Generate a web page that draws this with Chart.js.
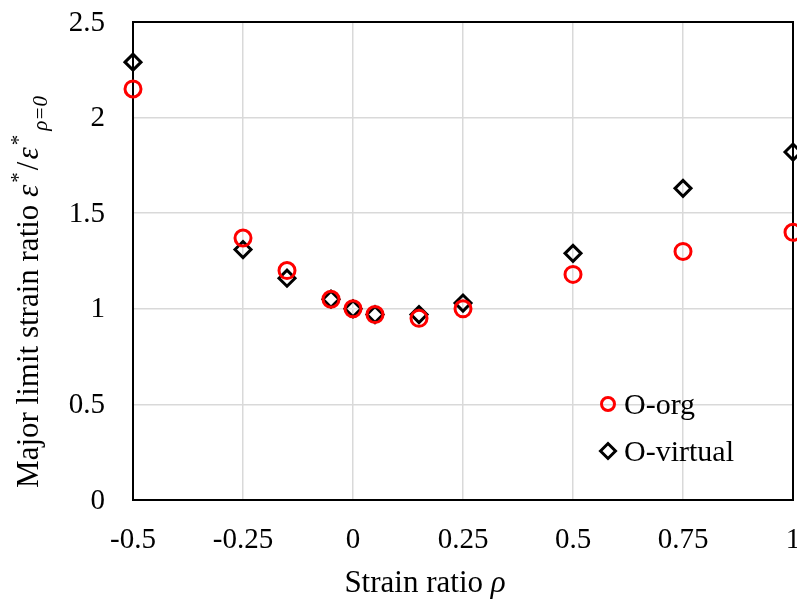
<!DOCTYPE html>
<html>
<head>
<meta charset="utf-8">
<script src="https://cdn.jsdelivr.net/npm/chart.js@4"></script>
<style>
  body { margin: 0; background: #fff; }
  #wrap { width: 797px; height: 606px; position: relative; }
</style>
</head>
<body>
<div id="wrap"><canvas id="chart" width="797" height="606"></canvas></div>
<script>
// strain ratio values
const strainRatio = [-0.5, -0.25, -0.15, -0.05, 0, 0.05, 0.15, 0.25, 0.5, 0.75, 1];
const orgValues = [2.15, 1.37, 1.20, 1.05, 1.00, 0.97, 0.95, 1.00, 1.18, 1.30, 1.40];
const virtualValues = [2.29, 1.31, 1.16, 1.05, 1.00, 0.97, 0.97, 1.03, 1.29, 1.63, 1.82];
const xTicks = [-0.5, -0.25, 0, 0.25, 0.5, 0.75, 1];
const yTicks = [0, 0.5, 1, 1.5, 2, 2.5];
const seriesNames = ['O-org', 'O-virtual'];

const serif = '"Liberation Serif", "Times New Roman", serif';

function toPoints(xs, ys) {
  return xs.map((x, i) => ({ x: x, y: ys[i] }));
}

// frame, tick labels, axis titles and inner legend
const decorations = {
  id: 'decorations',
  beforeDatasetsDraw(chart) {
    const ctx = chart.ctx;
    const a = chart.chartArea;
    ctx.save();
    ctx.strokeStyle = '#000';
    ctx.lineWidth = 2;
    ctx.strokeRect(a.left, a.top, a.right - a.left, a.bottom - a.top);
    ctx.restore();
  },
  afterDraw(chart) {
    const ctx = chart.ctx;
    const a = chart.chartArea;
    const xs = chart.scales.x, ys = chart.scales.y;
    ctx.save();

    // tick labels
    ctx.fillStyle = '#000';
    ctx.font = '29px ' + serif;
    ctx.textAlign = 'center';
    ctx.textBaseline = 'middle';
    xTicks.forEach(v => ctx.fillText(String(v), xs.getPixelForValue(v), a.bottom + 40));
    ctx.textAlign = 'right';
    yTicks.forEach(v => ctx.fillText(String(v), 105, ys.getPixelForValue(v) + 1));

    // x title
    ctx.textBaseline = 'alphabetic';
    ctx.textAlign = 'left';
    const t1 = 'Strain ratio ';
    ctx.font = '31px ' + serif;
    const w1 = ctx.measureText(t1).width;
    ctx.font = 'italic 31px ' + serif;
    const wRho = ctx.measureText('ρ').width;
    const sx = 425 - (w1 + wRho) / 2;
    ctx.font = '31px ' + serif;
    ctx.fillText(t1, sx, 592);
    ctx.font = 'italic 31px ' + serif;
    ctx.fillText('ρ', sx + w1, 592);

    // y title, rotated
    const parts = [
      { t: 'Major limit strain ratio ', f: '31px ', dy: 0 },
      { t: 'ε', f: 'italic 31px ', dy: 0, pad: 2 },
      { t: '*', f: '21px ', dy: -13, pad: 2 },
      { t: '/', f: '31px ', dy: 0, pad: 2 },
      { t: 'ε', f: 'italic 31px ', dy: 0, pad: 2 },
      { t: '*', f: '21px ', dy: -13, pad: 4 },
      { t: 'ρ=0', f: 'italic 21px ', dy: 9 }
    ];
    let total = 0;
    parts.forEach(p => {
      ctx.font = p.f + serif;
      p.w = ctx.measureText(p.t).width + (p.pad || 0);
      total += p.w;
    });
    ctx.translate(38, 292);
    ctx.rotate(-Math.PI / 2);
    let px = -total / 2;
    parts.forEach(p => {
      ctx.font = p.f + serif;
      ctx.fillText(p.t, px, p.dy);
      px += p.w;
    });
    ctx.restore();

    // legend inside plot
    ctx.save();
    const items = [
      { label: seriesNames[0], ds: chart.data.datasets[0], y: 404 },
      { label: seriesNames[1], ds: chart.data.datasets[1], y: 451 }
    ];
    items.forEach(it => {
      ctx.strokeStyle = it.ds.borderColor;
      ctx.fillStyle = 'rgba(0,0,0,0)';
      ctx.lineWidth = 3;
      Chart.helpers.drawPoint(ctx, {
        pointStyle: it.ds.pointStyle,
        radius: it.ds.pointStyle === 'circle' ? 6.5 : 7.5,
        borderWidth: 3,
        rotation: 0
      }, 608, it.y);
      ctx.fillStyle = '#000';
      ctx.font = '30px ' + serif;
      ctx.textAlign = 'left';
      ctx.textBaseline = 'alphabetic';
      ctx.fillText(it.label, 624, it.y + 10);
    });
    ctx.restore();
  }
};

new Chart(document.getElementById('chart'), {
  type: 'scatter',
  data: {
    datasets: [
      {
        label: seriesNames[0],
        data: toPoints(strainRatio, orgValues),
        pointStyle: 'circle',
        pointRadius: 8,
        pointBorderWidth: 3,
        borderColor: '#ff0000',
        backgroundColor: 'rgba(0,0,0,0)'
      },
      {
        label: seriesNames[1],
        data: toPoints(strainRatio, virtualValues),
        pointStyle: 'rectRot',
        pointRadius: 8,
        pointBorderWidth: 3,
        borderColor: '#000000',
        backgroundColor: 'rgba(0,0,0,0)'
      }
    ]
  },
  options: {
    responsive: false,
    animation: false,
    clip: false,
    layout: { autoPadding: false, padding: { left: 133, top: 22, right: 4, bottom: 106 } },
    plugins: { legend: { display: false }, tooltip: { enabled: false } },
    scales: {
      x: {
        type: 'linear',
        min: -0.5,
        max: 1,
        afterBuildTicks: s => { s.ticks = xTicks.map(v => ({ value: v })); },
        afterFit: s => { s.height = 0; },
        grid: { color: '#d9d9d9', lineWidth: 1.5, drawTicks: false },
        border: { display: false },
        ticks: { display: false }
      },
      y: {
        min: 0,
        max: 2.5,
        afterBuildTicks: s => { s.ticks = yTicks.map(v => ({ value: v })); },
        afterFit: s => { s.width = 0; },
        grid: { color: '#d9d9d9', lineWidth: 1.5, drawTicks: false },
        border: { display: false },
        ticks: { display: false }
      }
    }
  },
  plugins: [decorations]
});
</script>
</body>
</html>
